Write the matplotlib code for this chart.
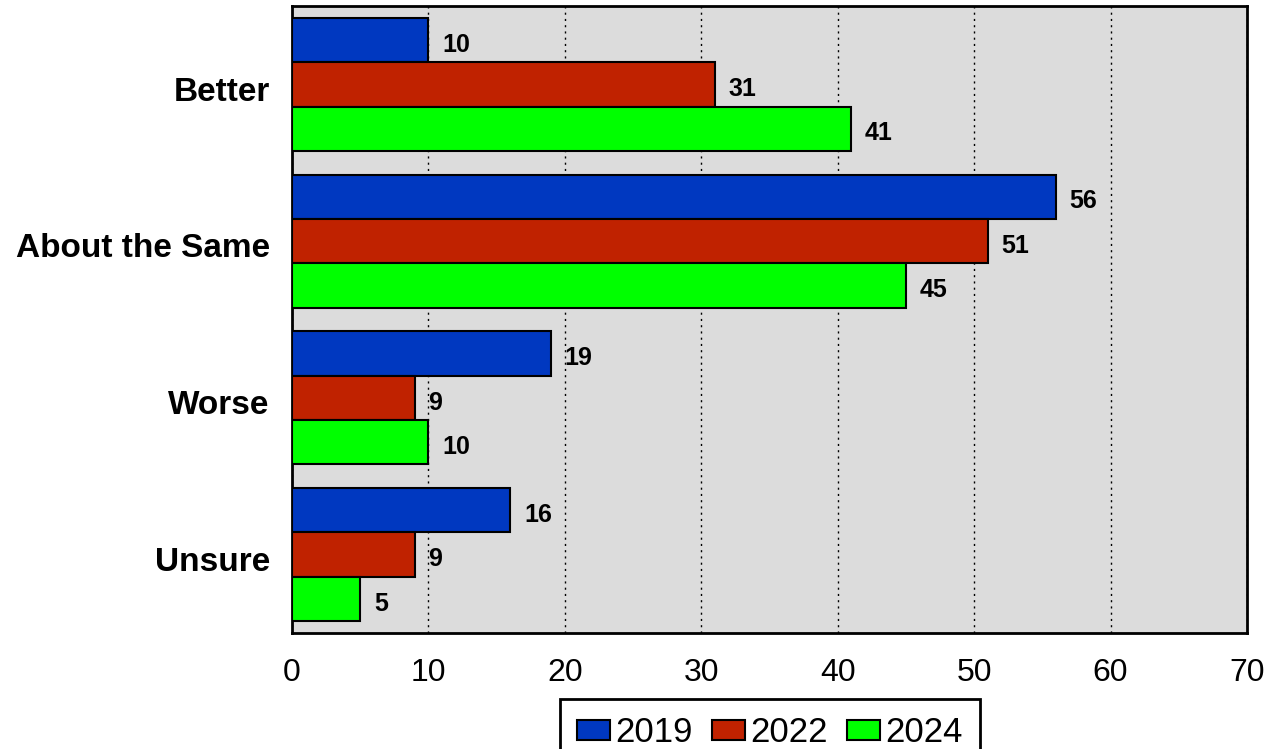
import matplotlib
matplotlib.use("Agg")
import matplotlib.pyplot as plt
import matplotlib.transforms as mtransforms
import numpy as np

categories = ["Better", "About the Same", "Worse", "Unsure"]
years = ["2019", "2022", "2024"]
v2019 = [10, 56, 19, 16]
v2022 = [31, 51, 9, 9]
v2024 = [41, 45, 10, 5]
colors = ["#0038C0", "#C02200", "#00FF00"]

plt.rcParams['font.family'] = ['Liberation Sans', 'DejaVu Sans']

fig = plt.figure(figsize=(12.7, 7.49), dpi=100)
ax = fig.add_axes([292/1270, 1-633/749, (1247-292)/1270, (633-6)/749])
ax.set_facecolor("#DCDCDC")

y = np.arange(len(categories))
h = 0.283
series = [v2019, v2022, v2024]
for i, (vals, c, yr) in enumerate(zip(series, colors, years)):
    pos = y + (i - 1) * h
    ax.barh(pos, vals, height=h, color=c, edgecolor="black", linewidth=1.5, label=yr, zorder=3)
    for p, v in zip(pos, vals):
        ax.text(v + 1.0, p + 0.03, str(v), va="center", ha="left",
                fontsize=18, fontweight="bold", zorder=4)

ax.set_xlim(0, 70)
ax.set_ylim(3.5, -0.5)
ax.set_xticks(range(0, 71, 10))
ax.set_yticks(y)
ax.set_yticklabels(categories, fontsize=24, fontweight="bold")
ax.tick_params(axis="x", labelsize=23, length=0, pad=18)
ax.tick_params(axis="y", length=0, pad=16)
shift = mtransforms.ScaledTranslation(0, -3/72, fig.dpi_scale_trans)
for lbl in ax.get_yticklabels():
    lbl.set_transform(lbl.get_transform() + shift)
ax.xaxis.grid(True, linestyle=(0, (1.5, 3)), color="black", linewidth=1.0, zorder=1)
ax.set_axisbelow(True)
for s in ax.spines.values():
    s.set_linewidth(2)
    s.set_color("black")

leg = fig.legend(loc="upper center", bbox_to_anchor=(770/1270, 1-699/749), ncol=3,
                 fontsize=25, frameon=True, fancybox=False, edgecolor="black",
                 framealpha=1, handlelength=0.95, handleheight=0.5, handletextpad=0.15,
                 columnspacing=0.55, borderpad=0.5, borderaxespad=0)
leg.get_frame().set_linewidth(2)

fig.savefig("out.png", dpi=100, facecolor="white")
